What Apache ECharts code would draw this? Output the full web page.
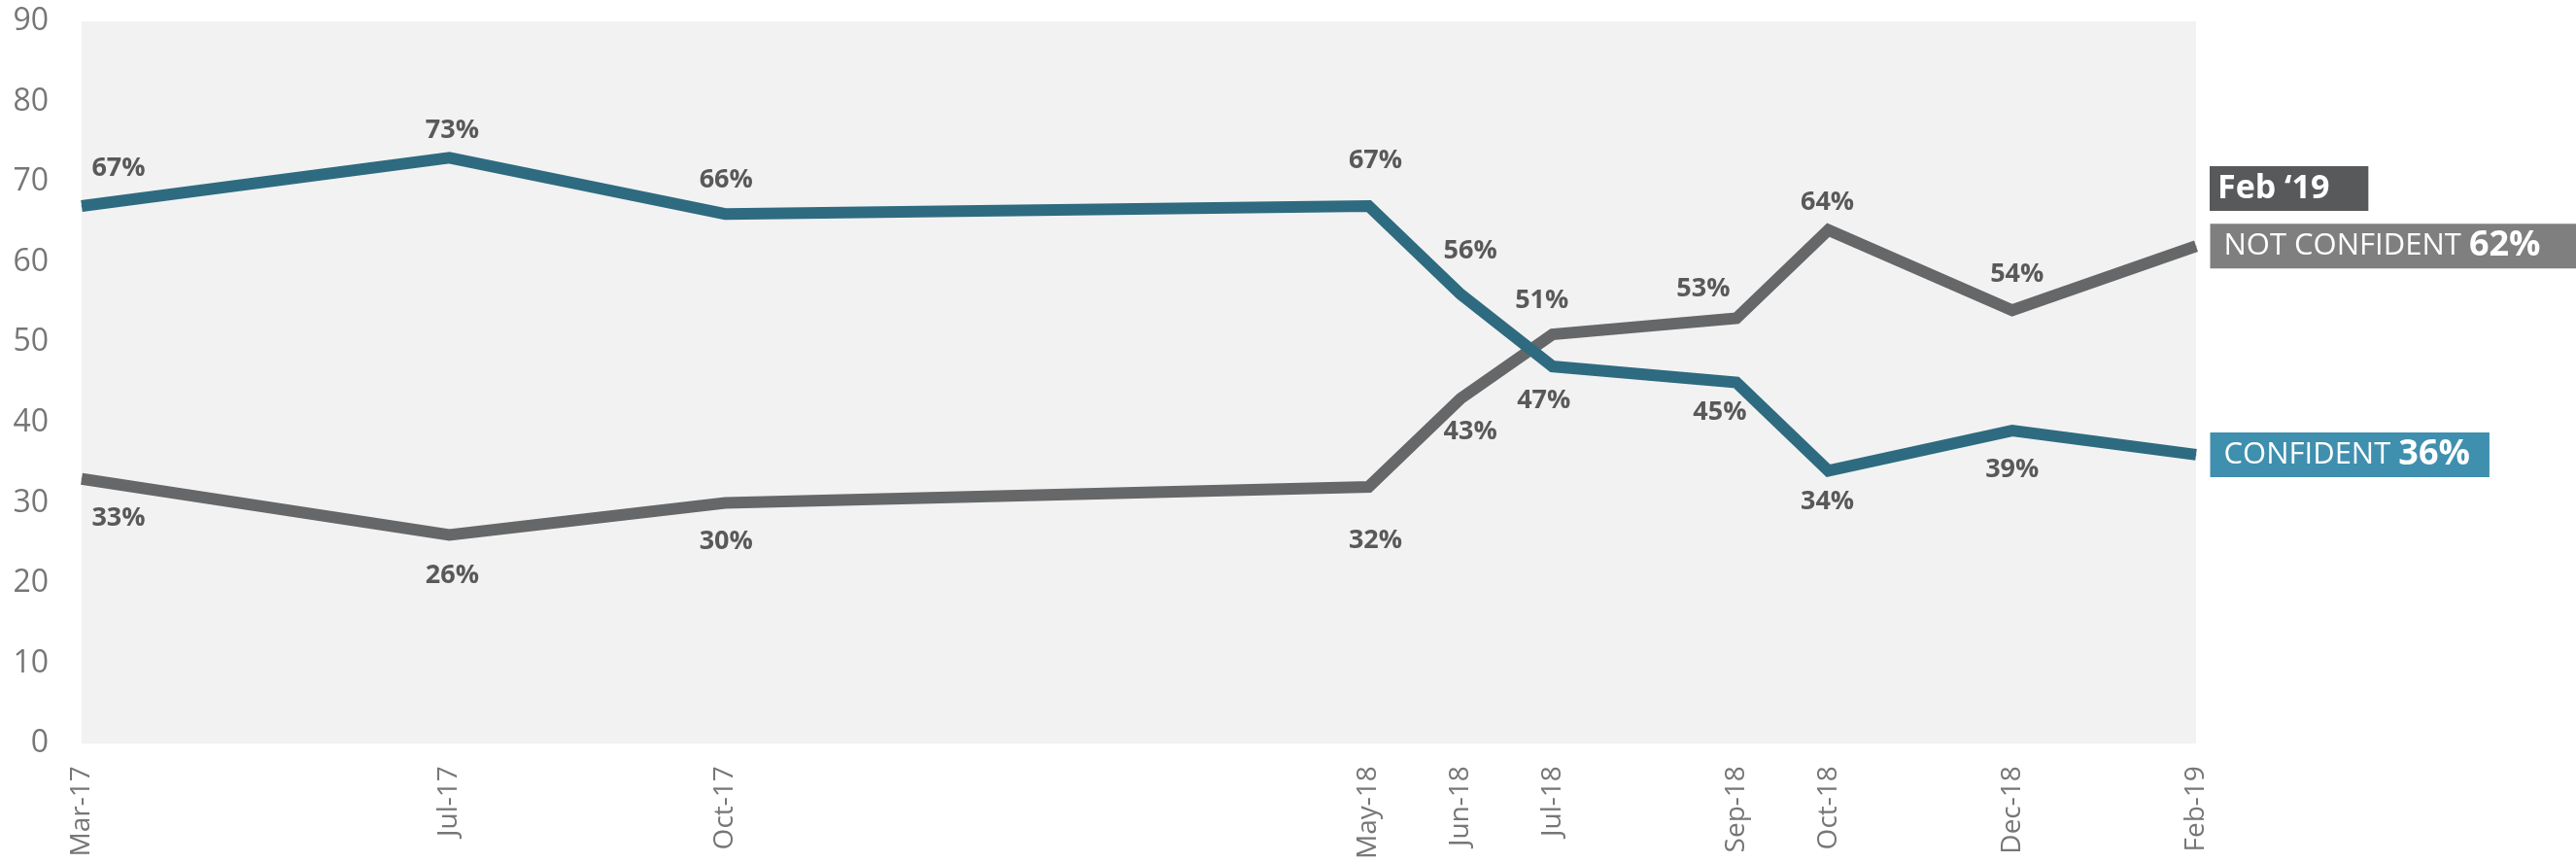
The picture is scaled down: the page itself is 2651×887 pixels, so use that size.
<!DOCTYPE html>
<html>
<head>
<meta charset="utf-8">
<script src="https://cdn.jsdelivr.net/npm/echarts@6/dist/echarts.min.js"></script>
<style>
html,body{margin:0;padding:0;background:#fff;}
#chart{width:2651px;height:887px;}
</style>
</head>
<body>
<div id="chart"></div>
<script>
// ---- data ----
const months = ['2017-03','2017-07','2017-10','2018-05','2018-06','2018-07','2018-09','2018-10','2018-12','2019-02'];
const tickLabels = ['Mar-17','Jul-17','Oct-17','May-18','Jun-18','Jul-18','Sep-18','Oct-18','Dec-18','Feb-19'];
const confident = [67,73,66,67,56,47,45,34,39,36];
const notConfident = [33,26,30,32,43,51,53,64,54,62];
const seriesNames = ['CONFIDENT','NOT CONFIDENT'];
const endTitle = 'Feb \u201819';

// ---- label placement (styling, offsets from point in px) ----
const confLabelOffsets = [[38,-39],[3,-28],[1,-35],[7,-47],[10,-44],[-9,35],[-17,31],[-1,32],[0,40],null];
const ncLabelOffsets   = [[38,41],[3,42],[1,40],[7,55],[10,34],[-11,-35],[-34,-30],[-1,-28],[5,-37],null];

const FONT = '"Open Sans", "Noto Sans", sans-serif';
// month position on a continuous (monthly) scale
const monthPos = months.map(m => { const [y, mo] = m.split('-').map(Number); return y * 12 + (mo - 1); });

function buildData(vals, offsets, endName, endBg) {
  return vals.map((v, i) => {
    const item = { value: [monthPos[i], v] };
    if (offsets[i]) {
      item.label = { show: true, position: 'inside', offset: offsets[i] };
    } else {
      item.label = {
        show: true, position: 'right', distance: 14,
        formatter: p => `{n|${endName} }{v|${p.value[1]}%}`,
        backgroundColor: endBg,
        padding: [4, endName === 'NOT CONFIDENT' ? 70 : 20, 4, 14],
        rich: {
          n: { fontFamily: FONT, fontSize: 31, fontWeight: 'normal', color: '#fff', lineHeight: 38 },
          v: { fontFamily: FONT, fontSize: 36, fontWeight: 'bold', color: '#fff', lineHeight: 38 }
        }
      };
    }
    return item;
  });
}

const chart = echarts.init(document.getElementById('chart'), null, { renderer: 'canvas' });
const commonLabel = {
  show: true,
  formatter: p => p.value[1] + '%',
  fontFamily: FONT, fontSize: 27, fontWeight: 'bold', color: '#595959'
};

chart.setOption({
  animation: false,
  backgroundColor: '#ffffff',
  grid: { left: 84, right: 391, top: 22, bottom: 118, show: true, backgroundColor: '#F2F2F2', borderWidth: 0 },
  xAxis: {
    type: 'value',
    min: monthPos[0], max: monthPos[monthPos.length - 1],
    axisLine: { show: false }, axisTick: { show: false }, splitLine: { show: false },
    axisLabel: {
      customValues: monthPos,
      rotate: 90, margin: 23,
      fontFamily: FONT, fontSize: 28, color: '#767676',
      formatter: v => { const i = monthPos.indexOf(v); return i >= 0 ? tickLabels[i] : ''; }
    }
  },
  yAxis: {
    type: 'value', min: 0, max: 90, interval: 10,
    axisLine: { show: false }, axisTick: { show: false }, splitLine: { show: false },
    axisLabel: { fontFamily: FONT, fontSize: 32, color: '#767676', margin: 34 }
  },
  series: [
    {
      name: seriesNames[1], type: 'line',
      data: buildData(notConfident, ncLabelOffsets, seriesNames[1], '#7F7F7F'),
      symbol: 'circle', symbolSize: 1, showSymbol: true,
      itemStyle: { color: '#666769' },
      lineStyle: { color: '#666769', width: 12, join: 'miter', cap: 'butt' },
      label: commonLabel, z: 2
    },
    {
      name: seriesNames[0], type: 'line',
      data: buildData(confident, confLabelOffsets, seriesNames[0], '#3F8FAE'),
      symbol: 'circle', symbolSize: 1, showSymbol: true,
      itemStyle: { color: '#2E6B80' },
      lineStyle: { color: '#2E6B80', width: 12, join: 'miter', cap: 'butt' },
      label: commonLabel, z: 3
    }
  ],
  graphic: [{
    type: 'text', left: 2274, top: 171,
    style: {
      text: endTitle, fill: '#fff',
      font: 'bold 34px "Open Sans", "Noto Sans", sans-serif',
      backgroundColor: '#58595B', padding: [4, 40, 4, 8], lineHeight: 38
    }
  }]
});
</script>
</body>
</html>
